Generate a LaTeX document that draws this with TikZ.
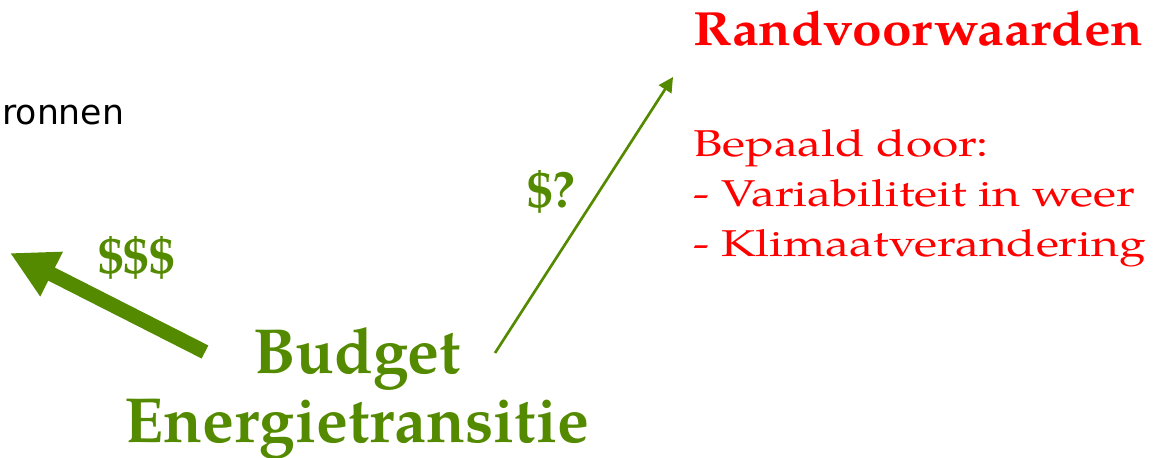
\documentclass[tikz,border=0pt]{standalone}
\usepackage{fontspec}
\setmainfont{TeX Gyre Pagella}
\newfontfamily\ronfont{DejaVu Sans}
\newfontfamily\randfont{TeX Gyre Pagella}[FakeStretch=1.11]
\newfontfamily\listfont{TeX Gyre Pagella}[FakeStretch=1.28]
\usepackage{tikz}
\usetikzlibrary{arrows.meta}
\definecolor{budgetgreen}{RGB}{84,138,0}
\definecolor{randred}{RGB}{255,0,0}
\tikzset{
  greenlabel/.style={text=budgetgreen, font=\fontsize{38.5}{40}\selectfont\bfseries, inner sep=0pt},
  budgetlabel/.style={text=budgetgreen, font=\fontsize{47.8}{50}\selectfont\bfseries, inner sep=0pt},
  redlabel/.style={text=randred, font=\listfont\fontsize{28}{37.5}\selectfont, inner sep=0pt, anchor=base west}
}

\begin{document}
\begin{tikzpicture}[x=0.75pt, y=0.75pt]
    \useasboundingbox (0,0) rectangle (1163,457);
    \coordinate (BigTail) at (205,105);
    \coordinate (BigTip) at (10,204);
    \coordinate (SmallTail) at (495,104);
    \coordinate (SmallTip) at (673,380);
    \draw[budgetgreen, line width=11pt, -{Triangle[length=35pt, width=35pt]}] (BigTail) -- (BigTip);
    \draw[budgetgreen, line width=2pt, -{Triangle[length=11pt, width=11pt]}] (SmallTail) -- (SmallTip);
    \node[anchor=base west, inner sep=0pt, font=\ronfont\fontsize{26}{30}\selectfont] (ronnen) at (2,332) {ronnen};
    \node[greenlabel, anchor=base west] (dollars) at (98,183) {\$\$\$};
    \node[greenlabel, anchor=base west] (question) at (527,249) {\$?};
    \node[budgetlabel, anchor=base] (budget) at (357,84) {Budget};
    \node[budgetlabel, anchor=base] (transitie) at (357,15) {Energietransitie};
    \node[text=randred, font=\randfont\fontsize{36}{40}\selectfont\bfseries, inner sep=0pt, anchor=base west] (rand) at (693,411) {Randvoorwaarden};
    \node[redlabel] (bepaald) at (693,300) {Bepaald door:};
    \node[redlabel] (weer) at (693,250) {- Variabiliteit in weer};
    \node[redlabel] (klimaat) at (693,200) {- Klimaatverandering};
\end{tikzpicture}
\end{document}
